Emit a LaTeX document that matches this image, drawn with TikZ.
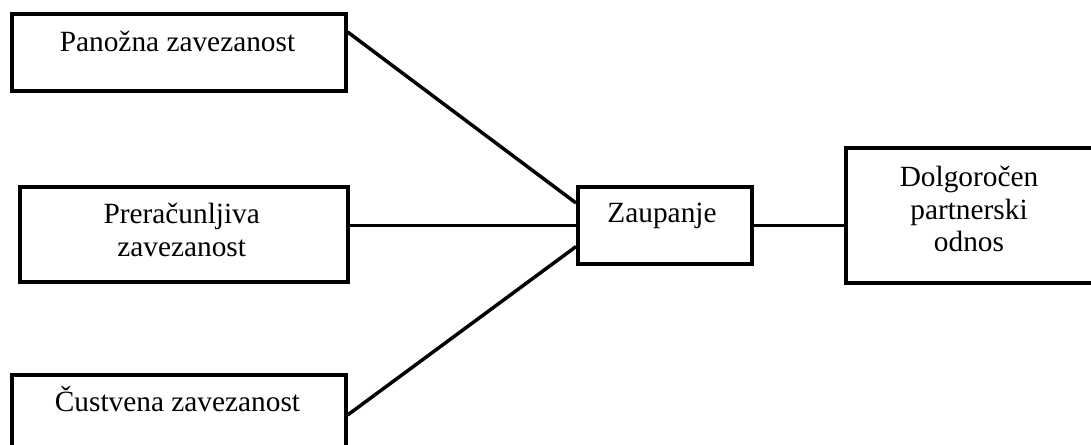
\documentclass[tikz,border=0pt]{standalone}
\usepackage{fontspec}
\setmainfont{Liberation Serif}
\begin{document}
\begin{tikzpicture}[x=0.75pt,y=-0.75pt,
  boxnode/.style={draw=black,line width=2.7pt,rectangle,inner sep=0pt,anchor=north west},
  lbl/.style={font=\fontsize{22}{24.5}\selectfont,align=center,inner sep=0pt,anchor=base},
  conn/.style={draw=black,line width=2.6pt}]
\useasboundingbox (0,0) rectangle (1091,445);
\clip (0,0) rectangle (1091,445);
\fill[white] (0,0) rectangle (1091,445);
\node[boxnode,minimum width=250.5pt,minimum height=57.75pt] (b1) at (10,12) {};
\node[boxnode,minimum width=246pt,minimum height=71.25pt] (b2) at (18,185) {};
\node[boxnode,minimum width=250.5pt,minimum height=75pt] (b3) at (10,373) {};
\node[boxnode,minimum width=130.5pt,minimum height=57.75pt] (zau) at (576,185) {};
\node[boxnode,minimum width=195pt,minimum height=101.25pt] (dol) at (844,146) {};
\node[lbl] (t1) at (177.5,52) {Panožna zavezanost};
\node[lbl] (t2) at (181.7,256) {Preračunljiva\\zavezanost};
\node[lbl] (t3) at (177.5,411) {Čustvena zavezanost};
\node[lbl] (t4) at (662,223) {Zaupanje};
\node[lbl] (t5) at (969,252) {Dolgoročen\\partnerski\\odnos};
\draw[conn] ([yshift=-15pt]b1.north east) -- ([yshift=-13.5pt]zau.north west);
\draw[conn] (zau.west -| b2.east) -- (zau.west);
\draw[conn] ([yshift=-31.5pt]b3.north east) -- ([yshift=14.25pt]zau.south west);
\draw[conn] (zau.east) -- (zau.east -| dol.west);
\end{tikzpicture}
\end{document}
